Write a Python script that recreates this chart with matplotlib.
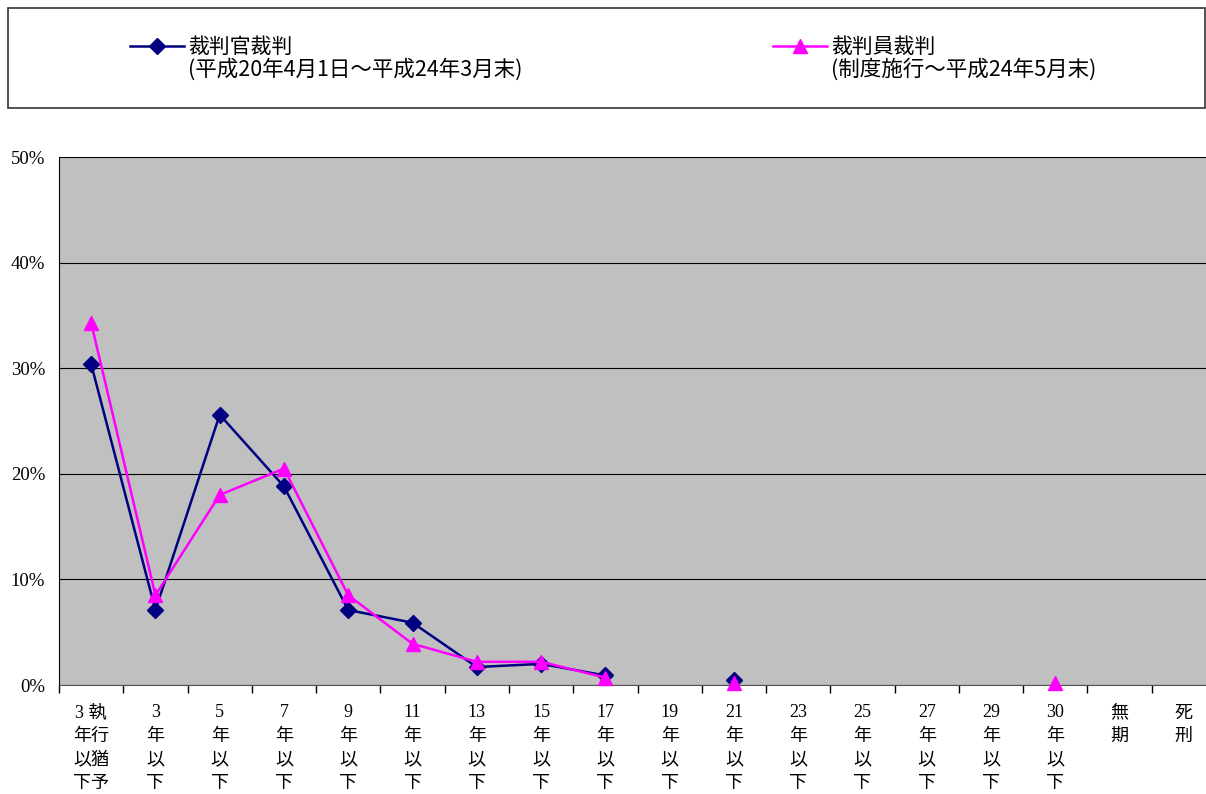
import numpy as np
import matplotlib
matplotlib.use("Agg")
import matplotlib.pyplot as plt
from matplotlib.patches import Rectangle

plt.rcParams['font.family'] = ['Liberation Serif', 'Noto Sans CJK JP']

# カテゴリ（縦書きラベル）
categories = ["3 執\n年行\n以猶\n下予", "3\n年\n以\n下", "5\n年\n以\n下", "7\n年\n以\n下",
              "9\n年\n以\n下", "11\n年\n以\n下", "13\n年\n以\n下", "15\n年\n以\n下",
              "17\n年\n以\n下", "19\n年\n以\n下", "21\n年\n以\n下", "23\n年\n以\n下",
              "25\n年\n以\n下", "27\n年\n以\n下", "29\n年\n以\n下", "30\n年\n以\n下",
              "無\n期", "死\n刑"]

nan = np.nan
# 裁判官裁判 (%)
judge = [30.4, 7.1, 25.6, 18.8, 7.1, 5.9, 1.7, 2.0, 0.9, nan, 0.5,
         nan, nan, nan, nan, nan, nan, nan]
# 裁判員裁判 (%)
lay = [34.3, 8.5, 18.0, 20.5, 8.5, 3.9, 2.2, 2.2, 0.7, nan, 0.2,
       nan, nan, nan, nan, 0.2, nan, nan]

label1 = "裁判官裁判"
note1 = "(平成20年4月1日～平成24年3月末)"
label2 = "裁判員裁判"
note2 = "(制度施行～平成24年5月末)"

W, H = 1206, 794
fig = plt.figure(figsize=(W / 100, H / 100), dpi=100)
# プロット領域は右端で少しはみ出している
ax = fig.add_axes([59 / W, 1 - 685 / H, 1157 / W, 528 / H])
ax.set_facecolor('#C0C0C0')

x = np.arange(len(categories))
l1, = ax.plot(x, judge, color='#000080', lw=1.8, marker='D', ms=8,
              clip_on=False, zorder=3)
l2, = ax.plot(x, lay, color='#FF00FF', lw=1.8, marker='^', ms=10,
              clip_on=False, zorder=4)

ax.set_xlim(-0.5, len(categories) - 0.5)
ax.set_ylim(0, 50)
ax.set_yticks(np.arange(0, 51, 10))
ax.set_yticklabels([f"{v}%" for v in range(0, 51, 10)], fontsize=13.5)
ax.tick_params(axis='y', length=0, pad=10)
ax.yaxis.grid(True, color='black', lw=0.8)
ax.set_axisbelow(True)

ax.set_xticks(np.arange(len(categories) + 1) - 0.5)
ax.set_xticklabels([])
ax.set_xticks(x, minor=True)
ax.set_xticklabels(categories, minor=True, fontsize=13, linespacing=1.5,
                   va='top')
ax.tick_params(axis='x', which='major', length=6, width=1, direction='out')
ax.tick_params(axis='x', which='minor', length=0, pad=14)

for s in ['top', 'right']:
    ax.spines[s].set_visible(False)
ax.spines['left'].set_color('black')
ax.spines['bottom'].set_color('#555555')

# 凡例ボックス
fig.patches.append(Rectangle((8 / W, 1 - 108 / H), 1197 / W, 100 / H,
                             transform=fig.transFigure, fill=False,
                             edgecolor='#333333', lw=1.2))

for line, lab, note, px in [(l1, label1, note1, 130), (l2, label2, note2, 773)]:
    fig.legend([line], [lab], loc='center left',
               bbox_to_anchor=(px / W, 1 - 47 / H), frameon=False,
               borderpad=0, borderaxespad=0, handlelength=2.6,
               handletextpad=0.2, prop={'size': 15, 'family': 'Noto Sans CJK JP'})
    fig.text((px + 58) / W, 1 - 70 / H, note, fontsize=15.5, va='center',
             ha='left', family=['Noto Sans CJK JP'])

fig.savefig('out.png', dpi=100)
